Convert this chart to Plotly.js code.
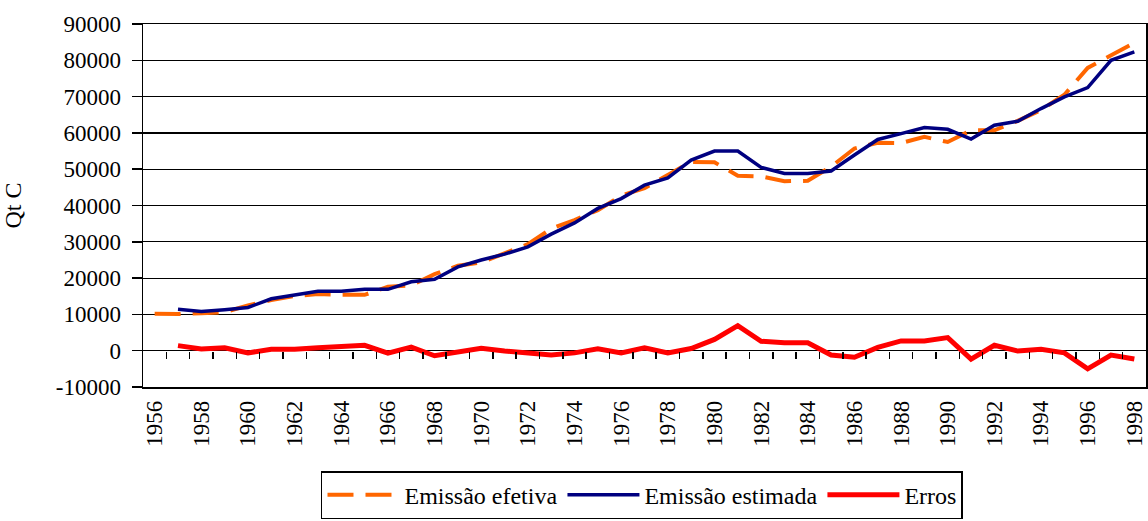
<!DOCTYPE html>
<html><head><meta charset="utf-8">
<script src="https://cdn.plot.ly/plotly-3.0.1.min.js"></script>
<style>html,body{margin:0;padding:0;background:#fff}#chart{width:1148px;height:521px}</style>
</head><body><div id="chart"></div>
<script>
const years = [1956,1957,1958,1959,1960,1961,1962,1963,1964,1965,1966,1967,1968,1969,1970,1971,1972,1973,1974,1975,1976,1977,1978,1979,1980,1981,1982,1983,1984,1985,1986,1987,1988,1989,1990,1991,1992,1993,1994,1995,1996,1997,1998];
const emissaoEfetiva = [10200,10100,10300,10600,12500,13950,15050,15600,15400,15400,17600,18000,21100,23400,24300,26700,29350,33600,36000,38700,42700,44800,48300,52000,51900,48200,48000,46700,46800,50700,55700,57300,57200,58900,57500,60700,60700,63300,66300,70500,77900,81300,84800];
const emissaoEstimada = [null,11400,10800,11300,11900,14300,15400,16400,16400,16900,16900,19000,19700,23100,25000,26600,28600,32100,35200,39200,41900,45600,47600,52500,55000,55000,50500,48800,48800,49500,53900,58200,59800,61500,61000,58300,62100,63200,66700,69900,72500,80000,82300];
const erros = [null,1400,500,800,-600,400,400,800,1000,1500,-700,1000,-1400,-300,700,-100,-700,-1200,-600,500,-600,800,-600,600,3100,6900,2600,2200,2200,-1200,-1800,900,2700,2700,3600,-2300,1500,-100,400,-600,-5000,-1200,-2300];
const seriesNames = ["Emissão efetiva","Emissão estimada","Erros"];
const xTickYears = [1956,1958,1960,1962,1964,1966,1968,1970,1972,1974,1976,1978,1980,1982,1984,1986,1988,1990,1992,1994,1996,1998];
const xTickText = ["1956","1958","1960","1962","1964","1966","1968","1970","1972","1974","1976","1978","1980","1982","1984","1986","1988","1990","1992","1994","1996","1998"];
const yTickVals = [-10000,0,10000,20000,30000,40000,50000,60000,70000,80000,90000];
const yTickText = ["-10000","0","10000","20000","30000","40000","50000","60000","70000","80000","90000"];
const yTitle = "Qt C";

const betweenTicks = years.slice(0,-1).map(v => v + 0.5);
const xRange = [years[0]-0.5, years[years.length-1]+0.5];
const FAM = "Liberation Serif, Times New Roman, serif";
const F = (s) => ({family: FAM, size: s, color: "#000"});

const traces = [
  {x: years, y: emissaoEfetiva, name: seriesNames[0], mode: "lines", xaxis: "x", yaxis: "y",
   line: {color: "#FF6600", width: 4, dash: "26px,12px"}},
  {x: years, y: emissaoEstimada, name: seriesNames[1], mode: "lines", xaxis: "x", yaxis: "y",
   line: {color: "#000080", width: 3.5}},
  {x: years, y: erros, name: seriesNames[2], mode: "lines", xaxis: "x2", yaxis: "y",
   line: {color: "#FF0000", width: 5}}
];

const layout = {
  width: 1148, height: 521,
  margin: {l: 143, r: 2, t: 24, b: 134},
  paper_bgcolor: "#fff", plot_bgcolor: "#fff",
  font: F(23),
  showlegend: true,
  xaxis: {
    range: xRange, tickmode: "array", tickvals: xTickYears, ticktext: xTickText,
    tickangle: -90, ticks: "", showgrid: false, zeroline: false,
    showline: true, linecolor: "#000", linewidth: 1.5, mirror: true,
    automargin: false, fixedrange: true, tickfont: F(23), ticklabelstandoff: 3
  },
  xaxis2: {
    overlaying: "x", anchor: "free", position: 0.1, side: "bottom",
    range: xRange, tickmode: "array", tickvals: betweenTicks,
    ticks: "outside", ticklen: 7, tickwidth: 1.5, tickcolor: "#000",
    showticklabels: false, showgrid: false, zeroline: false, showline: false,
    automargin: false, fixedrange: true
  },
  yaxis: {
    range: [-10000, 90000], tickmode: "array", tickvals: yTickVals, ticktext: yTickText,
    ticks: "outside", ticklen: 10, tickwidth: 1.5, tickcolor: "#000",
    showgrid: true, gridcolor: "#000", gridwidth: 1.2,
    zeroline: true, zerolinecolor: "#000", zerolinewidth: 1.2,
    showline: true, linecolor: "#000", linewidth: 1.5, mirror: true,
    automargin: false, fixedrange: true, tickfont: F(23), ticklabelstandoff: 6,
    title: {text: yTitle, standoff: 34, font: F(24)}
  },
  legend: {
    orientation: "h", x: 0.4975, xanchor: "center", xref: "paper",
    y: -0.364, yanchor: "bottom", bordercolor: "#000", borderwidth: 1.5,
    bgcolor: "#fff", font: F(24), traceorder: "normal", itemwidth: 72
  }
};

Plotly.newPlot("chart", traces, layout, {displayModeBar: false, staticPlot: true});
</script>
</body></html>
